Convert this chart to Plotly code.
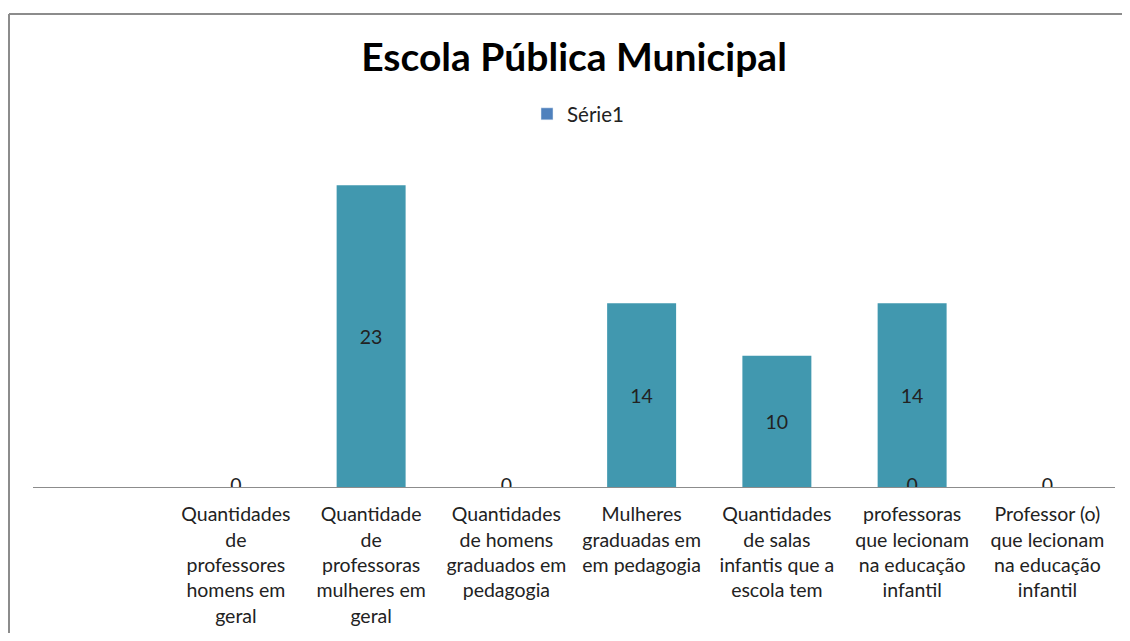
import plotly.graph_objects as go

categorias = [
    "Quantidades<br>de<br>professores<br>homens em<br>geral",
    "Quantidade<br>de<br>professoras<br>mulheres em<br>geral",
    "Quantidades<br>de homens<br>graduados em<br>pedagogia",
    "Mulheres<br>graduadas em<br>em pedagogia",
    "Quantidades<br>de salas<br>infantis que a<br>escola tem",
    "professoras<br>que lecionam<br>na educação<br>infantil",
    "Professor (o)<br>que lecionam<br>na educação<br>infantil",
]
valores = [0, 23, 0, 14, 10, 14, 0]
rotulos_valores = ["", "23", "", "14", "10", "14", ""]
# zero labels drawn on the baseline
categorias_zero = [categorias[0], categorias[2], categorias[5], categorias[6]]
valores_zero = [0, 0, 0, 0]

titulo = "Escola Pública Municipal"
serie = "Série1"

COR_BARRA = "#4198AF"
COR_LEGENDA = "#4F81BD"
FONTE = "Lato, 'Open Sans', sans-serif"

# the page adds an 8px body margin; the figure is sized to fill the window
W, H = 1114, 625
L, R, T, B = 25, 7, 151, 146
pw = W - L - R
ph = H - T - B

fig = go.Figure()
fig.add_trace(go.Bar(
    x=categorias, y=valores, name=serie,
    marker=dict(color=COR_BARRA, line=dict(width=0)),
    text=rotulos_valores, textposition="inside", insidetextanchor="middle",
    textfont=dict(family=FONTE, size=19.5, color="#222222"),
    showlegend=False, hoverinfo="x+y",
))
# legend entry (Excel shows the series key in a different blue)
fig.add_trace(go.Bar(
    x=[categorias[0]], y=[None], name=serie,
    marker=dict(color=COR_LEGENDA), showlegend=True, hoverinfo="skip",
))
fig.add_trace(go.Scatter(
    x=categorias_zero, y=valores_zero, mode="text",
    text=[str(v) for v in valores_zero], textposition="middle center",
    textfont=dict(family=FONTE, size=19.5, color="#222222"),
    showlegend=False, hoverinfo="skip",
))

# frame: top and left edges of the chart border
top_y = (H - B - 6) / ph
left_x = (1 - L) / pw
fig.add_shape(type="line", xref="paper", yref="paper",
              x0=left_x, x1=(W + 20 - L) / pw, y0=top_y, y1=top_y,
              line=dict(color="#8c8c8c", width=2))
fig.add_shape(type="line", xref="paper", yref="paper",
              x0=left_x, x1=left_x, y0=top_y, y1=-(B + 20) / ph,
              line=dict(color="#8c8c8c", width=2))

fig.update_layout(
    width=W, height=H,
    margin=dict(l=L, r=R, t=T, b=B),
    paper_bgcolor="white", plot_bgcolor="white",
    title=dict(text=f"<b>{titulo}</b>", x=566 / W, xanchor="center",
               y=1 - 49 / H, yanchor="middle", yref="container",
               font=dict(family=FONTE, size=39, color="#000000")),
    legend=dict(orientation="h", x=(519 - L) / pw, xanchor="left",
                y=(H - B - 106) / ph, yanchor="middle",
                font=dict(family=FONTE, size=20.5, color="#222222"),
                bgcolor="rgba(0,0,0,0)"),
    barmode="overlay",
    bargap=0.49,
    xaxis=dict(type="category", range=[-1.5, 6.5], showline=True,
               linecolor="#8c8c8c", linewidth=1, ticks="", showgrid=False,
               tickfont=dict(family=FONTE, size=19.5, color="#222222"),
               tickangle=0, ticklabelstandoff=10, fixedrange=True),
    yaxis=dict(range=[0, 25], visible=False, showgrid=False, zeroline=False,
               fixedrange=True),
)

fig.write_html("out.html")
